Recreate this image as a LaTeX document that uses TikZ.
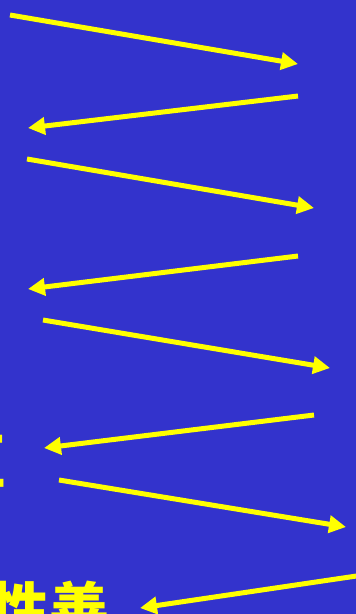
\documentclass[tikz,border=0pt]{standalone}
\usepackage{fontspec}
\newfontfamily\cjk{Noto Sans CJK SC}
\usetikzlibrary{arrows.meta}
\definecolor{bgblue}{RGB}{51,51,204}
\definecolor{ylw}{RGB}{255,255,0}
\tikzset{
  zig/.style={draw=ylw, line width=5pt, -{Triangle[length=17pt,width=17pt]}},
  bigtxt/.style={text=ylw, font=\cjk\bfseries\fontsize{60}{60}\selectfont, inner sep=0pt, anchor=base west}
}
\begin{document}
\begin{tikzpicture}[x=1pt,y=-1pt]
\useasboundingbox (0,0) rectangle (356,614);
\clip (0,0) rectangle (356,614);
\fill[bgblue] (0,0) rectangle (356,614);
\coordinate (a1) at (10,15);  \coordinate (b1) at (298,64);
\coordinate (a2) at (298,96); \coordinate (b2) at (28,128);
\coordinate (a3) at (27,159); \coordinate (b3) at (314,208);
\coordinate (a4) at (298,256);\coordinate (b4) at (28,289);
\coordinate (a5) at (43,320); \coordinate (b5) at (330,368);
\coordinate (a6) at (314,415);\coordinate (b6) at (44,448);
\coordinate (a7) at (59,480); \coordinate (b7) at (346,527);
\coordinate (a8) at (370,574);\coordinate (b8) at (140,608);
\foreach \i in {1,...,8} \draw[zig] (a\i) -- (b\i);
\node[bigtxt] (t1) at (-54,483) {亘};
\node[bigtxt] (t2) at (-11,632) {性善};
\end{tikzpicture}
\end{document}
